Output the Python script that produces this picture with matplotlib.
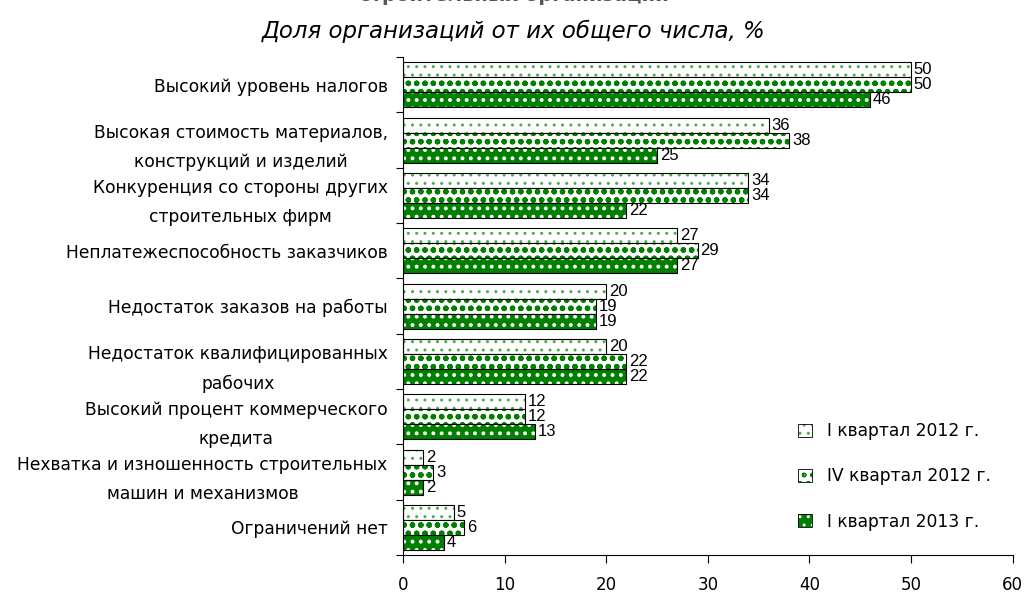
import numpy as np
import matplotlib.pyplot as plt
from matplotlib.patches import Patch
from matplotlib.legend_handler import HandlerTuple

plt.rcParams['font.family'] = ['DejaVu Sans']

categories = [
    'Высокий уровень налогов',
    'Высокая стоимость материалов,\nконструкций и изделий',
    'Конкуренция со стороны других\nстроительных фирм',
    'Неплатежеспособность заказчиков',
    'Недостаток заказов на работы',
    'Недостаток квалифицированных\nрабочих',
    'Высокий процент коммерческого\nкредита',
    'Нехватка и изношенность строительных\nмашин и механизмов',
    'Ограничений нет',
]
q1_2012 = [50, 36, 34, 27, 20, 20, 12, 2, 5]
q4_2012 = [50, 38, 34, 29, 19, 22, 12, 3, 6]
q1_2013 = [46, 25, 22, 27, 19, 22, 13, 2, 4]
series_names = ['I квартал 2012 г.', 'IV квартал 2012 г.', 'I квартал 2013 г.']

green = '#008000'
# (face, hatch, hatch colour, hatch width)
styles = [
    ('white', '..', '#4caf4c', 1.0),
    ('white', 'oo', green, 1.6),
    (green, '..', 'white', 1.6),
]
narrow = ['Liberation Sans Narrow', 'Liberation Sans']

fig = plt.figure(figsize=(10.28, 5.95), dpi=100)
ax = fig.add_axes([0.392, 0.067, 0.593, 0.837])

y = np.arange(len(categories))
h = 0.27
series = [q1_2012, q4_2012, q1_2013]
for i, (vals, (face, hatch, hc, hw)) in enumerate(zip(series, styles)):
    pos = y + (i - 1) * h
    ax.barh(pos, vals, height=h, color=face, edgecolor='none')
    with plt.rc_context({'hatch.linewidth': hw}):
        ax.barh(pos, vals, height=h, color='none', edgecolor=hc, hatch=hatch, linewidth=0)
    bars = ax.barh(pos, vals, height=h, color='none', edgecolor='black', linewidth=0.8)
    ax.bar_label(bars, padding=2, fontsize=12, family=narrow)

ax.set_ylim(len(categories) - 0.5, -0.5)
ax.set_xlim(0, 60)
ax.set_xticks(range(0, 61, 10))
ax.set_yticks(np.arange(len(categories) + 1) - 0.5, minor=False)
ax.set_yticklabels([])
ax.set_yticks(y, minor=True)
ax.set_yticklabels(categories, minor=True, fontsize=12.3, ha='right', multialignment='center',
                   linespacing=1.78)
ax.tick_params(axis='y', which='minor', length=0, pad=11)
ax.tick_params(axis='y', which='major', length=5, direction='out')
ax.tick_params(axis='x', length=6, pad=9, labelsize=12)

for s in ['top', 'right']:
    ax.spines[s].set_visible(False)

handles = []
for f, ht, hc, hw in styles:
    with plt.rc_context({'hatch.linewidth': hw}):
        hp = Patch(facecolor='none', edgecolor=hc, hatch=ht, linewidth=0)
    handles.append((Patch(facecolor=f, edgecolor='none'), hp,
                    Patch(facecolor='none', edgecolor='black', linewidth=0.6)))
leg = ax.legend(handles, series_names, loc='lower right', bbox_to_anchor=(0.99, 0.018), frameon=False,
                fontsize=12.3, handlelength=0.8, handleheight=0.8, labelspacing=1.6, handletextpad=0.9,
                handler_map={tuple: HandlerTuple(ndivide=1, pad=0)})

fig.text(0.5, 1.008, 'строительных организаций', ha='center', va='center',
         fontsize=14, fontweight='bold', color='#555555')
fig.text(0.5, 0.948, 'Доля организаций от их общего числа, %', ha='center', va='center',
         fontsize=16.5, style='italic')

fig.savefig('out.png', dpi=100)
